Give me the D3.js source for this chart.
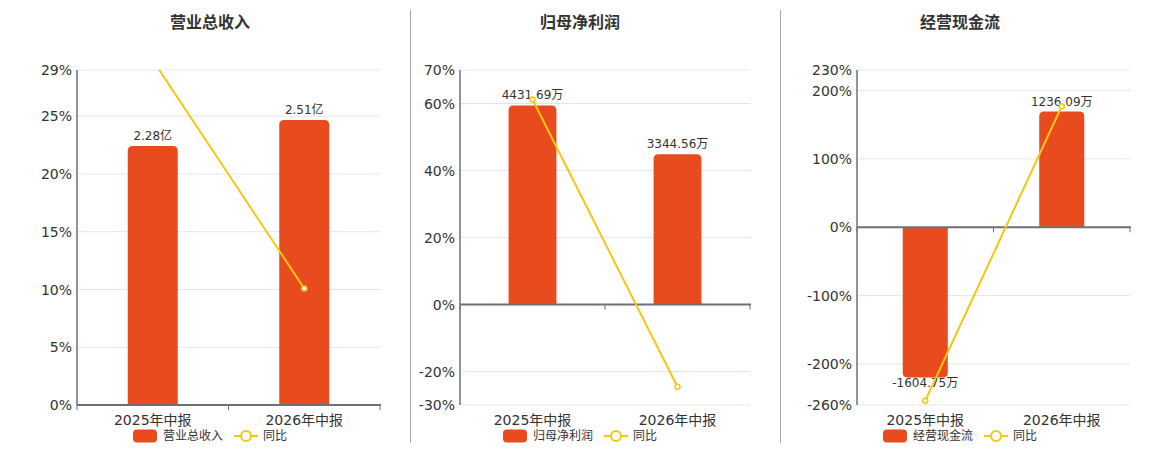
<!DOCTYPE html>
<html>
<head>
<meta charset="utf-8">
<script src="https://cdn.jsdelivr.net/npm/d3@7"></script>
<style>
  body { margin: 0; background: #fff; }
  svg { display: block; font-family: "DejaVu Sans", "Noto Sans CJK SC", sans-serif; }
</style>
</head>
<body>
<svg id="chart" width="1160" height="450"></svg>
<script>
// data
const periods = ["2025年中报", "2026年中报"]
const titles = ["营业总收入", "归母净利润", "经营现金流"]
const units = ["亿", "万", "万"]
const revenue = [2.28, 2.51]
const revenueYoy = [29.85, 10.09]
const netProfit = [4431.69, 3344.56]
const netProfitYoy = [61.2, -24.53]
const cashFlow = [-1604.75, 1236.09]
const cashFlowYoy = [-253.8, 177.03]
const revenueTicks = [0, 5, 10, 15, 20, 25, 29]
const netProfitTicks = [-30, -20, 0, 20, 40, 60, 70]
const cashFlowTicks = [-260, -200, -100, 0, 100, 200, 230]

const BAR = "#e84b1e"
const LINE = "#f2c811"
const AXIS = "#6e7079"
const GRID = "#e0e6f1"
const TEXT = "#333"

const svg = d3.select("#chart")
const plotTop = 70, plotBottom = 405

const panels = [
  { bars: revenue, yoy: revenueYoy, ticks: revenueTicks, left: 77, right: 380, cx: 210, barTop: 2.95 },
  { bars: netProfit, yoy: netProfitYoy, ticks: netProfitTicks, left: 460, right: 750, cx: 580, barTop: 5220 },
  { bars: cashFlow, yoy: cashFlowYoy, ticks: cashFlowTicks, left: 857, right: 1130, cx: 960, barTop: 1680 }
]

// separators between the three panels
svg.selectAll("line.sep")
  .data([410.5, 780.5])
  .enter().append("line")
  .attr("x1", d => d).attr("x2", d => d)
  .attr("y1", 10).attr("y2", 443)
  .attr("stroke", "#aaa")

panels.forEach((p, i) => {
  const g = svg.append("g")

  const x = d3.scaleBand()
    .domain(periods)
    .range([p.left, p.right])

  const y = d3.scaleLinear()
    .domain(d3.extent(p.ticks))
    .range([plotBottom, plotTop])

  // hidden bar axis, zero aligned with the % axis
  const yBar = d3.scaleLinear()
    .domain([0, p.barTop])
    .range([y(0), plotTop])

  // title
  g.append("text")
    .attr("x", p.cx).attr("y", 28)
    .attr("text-anchor", "middle")
    .style("font-size", "16px").style("font-weight", "bold")
    .attr("fill", TEXT)
    .text(titles[i])

  // grid
  g.selectAll("line.grid")
    .data(p.ticks.filter(t => t !== 0))
    .enter().append("line")
    .attr("x1", p.left).attr("x2", p.right)
    .attr("y1", d => y(d)).attr("y2", d => y(d))
    .attr("stroke", GRID)

  // y tick labels
  g.selectAll("text.ytick")
    .data(p.ticks)
    .enter().append("text")
    .attr("x", p.left - 5)
    .attr("y", d => y(d))
    .attr("dy", "0.36em")
    .attr("text-anchor", "end")
    .style("font-size", "14px")
    .attr("fill", TEXT)
    .text(d => d + "%")

  // bars
  const bw = x.bandwidth() * 0.33
  const r = 5
  g.selectAll("path.bar")
    .data(p.bars)
    .enter().append("path")
    .attr("fill", BAR)
    .attr("d", (d, j) => {
      const x0 = x(periods[j]) + (x.bandwidth() - bw) / 2
      const y0 = yBar(0), y1 = yBar(d)
      const s = d >= 0 ? 1 : -1
      return `M${x0},${y0} V${y1 + s * r} Q${x0},${y1} ${x0 + r},${y1} H${x0 + bw - r} Q${x0 + bw},${y1} ${x0 + bw},${y1 + s * r} V${y0} Z`
    })

  // bar labels
  g.selectAll("text.blabel")
    .data(p.bars)
    .enter().append("text")
    .attr("x", (d, j) => x(periods[j]) + x.bandwidth() / 2)
    .attr("y", d => d >= 0 ? yBar(d) - 6 : yBar(d) + 10)
    .attr("text-anchor", "middle")
    .style("font-size", "12px")
    .attr("fill", TEXT)
    .text(d => d.toFixed(2) + units[i])

  // axes lines
  g.append("line")
    .attr("x1", p.left).attr("x2", p.left)
    .attr("y1", plotTop).attr("y2", plotBottom)
    .attr("stroke", AXIS).attr("stroke-width", 1.5)
  g.append("line")
    .attr("x1", p.left).attr("x2", p.right + 1)
    .attr("y1", y(0)).attr("y2", y(0))
    .attr("stroke", AXIS).attr("stroke-width", 2)
  g.selectAll("line.xtick")
    .data([p.left, p.left + x.bandwidth(), p.right])
    .enter().append("line")
    .attr("x1", d => d).attr("x2", d => d)
    .attr("y1", y(0)).attr("y2", y(0) + 5)
    .attr("stroke", AXIS).attr("stroke-width", 1)

  // x labels
  g.selectAll("text.xlabel")
    .data(periods)
    .enter().append("text")
    .attr("x", d => x(d) + x.bandwidth() / 2)
    .attr("y", 425)
    .attr("text-anchor", "middle")
    .style("font-size", "14px")
    .attr("fill", TEXT)
    .text(d => d)

  // yoy line, clipped to plot area
  const clipId = "clip" + i
  g.append("clipPath").attr("id", clipId)
    .append("rect")
    .attr("x", p.left).attr("y", plotTop)
    .attr("width", p.right - p.left).attr("height", plotBottom - plotTop)

  const lg = g.append("g").attr("clip-path", `url(#${clipId})`)
  const line = d3.line()
    .x((d, j) => x(periods[j]) + x.bandwidth() / 2)
    .y(d => y(d))
  lg.append("path")
    .datum(p.yoy)
    .attr("d", line)
    .attr("fill", "none")
    .attr("stroke", LINE).attr("stroke-width", 2)
  lg.selectAll("circle")
    .data(p.yoy)
    .enter().append("circle")
    .attr("cx", (d, j) => x(periods[j]) + x.bandwidth() / 2)
    .attr("cy", d => y(d))
    .attr("r", 2.5)
    .attr("fill", "#fff")
    .attr("stroke", LINE).attr("stroke-width", 1.5)

  // legend
  const lx = p.cx - 77
  const leg = g.append("g").attr("transform", `translate(${lx},436)`)
  leg.append("rect")
    .attr("x", 0).attr("y", -6.5)
    .attr("width", 24).attr("height", 13)
    .attr("rx", 4)
    .attr("fill", BAR)
  leg.append("text")
    .attr("x", 30).attr("dy", "0.36em")
    .style("font-size", "12px")
    .attr("fill", TEXT)
    .text(titles[i])
  leg.append("line")
    .attr("x1", 101).attr("x2", 125)
    .attr("stroke", LINE).attr("stroke-width", 2)
  leg.append("circle")
    .attr("cx", 113).attr("r", 5)
    .attr("fill", "#fff")
    .attr("stroke", LINE).attr("stroke-width", 2)
  leg.append("text")
    .attr("x", 130).attr("dy", "0.36em")
    .style("font-size", "12px")
    .attr("fill", TEXT)
    .text("同比")
})
</script>
</body>
</html>
